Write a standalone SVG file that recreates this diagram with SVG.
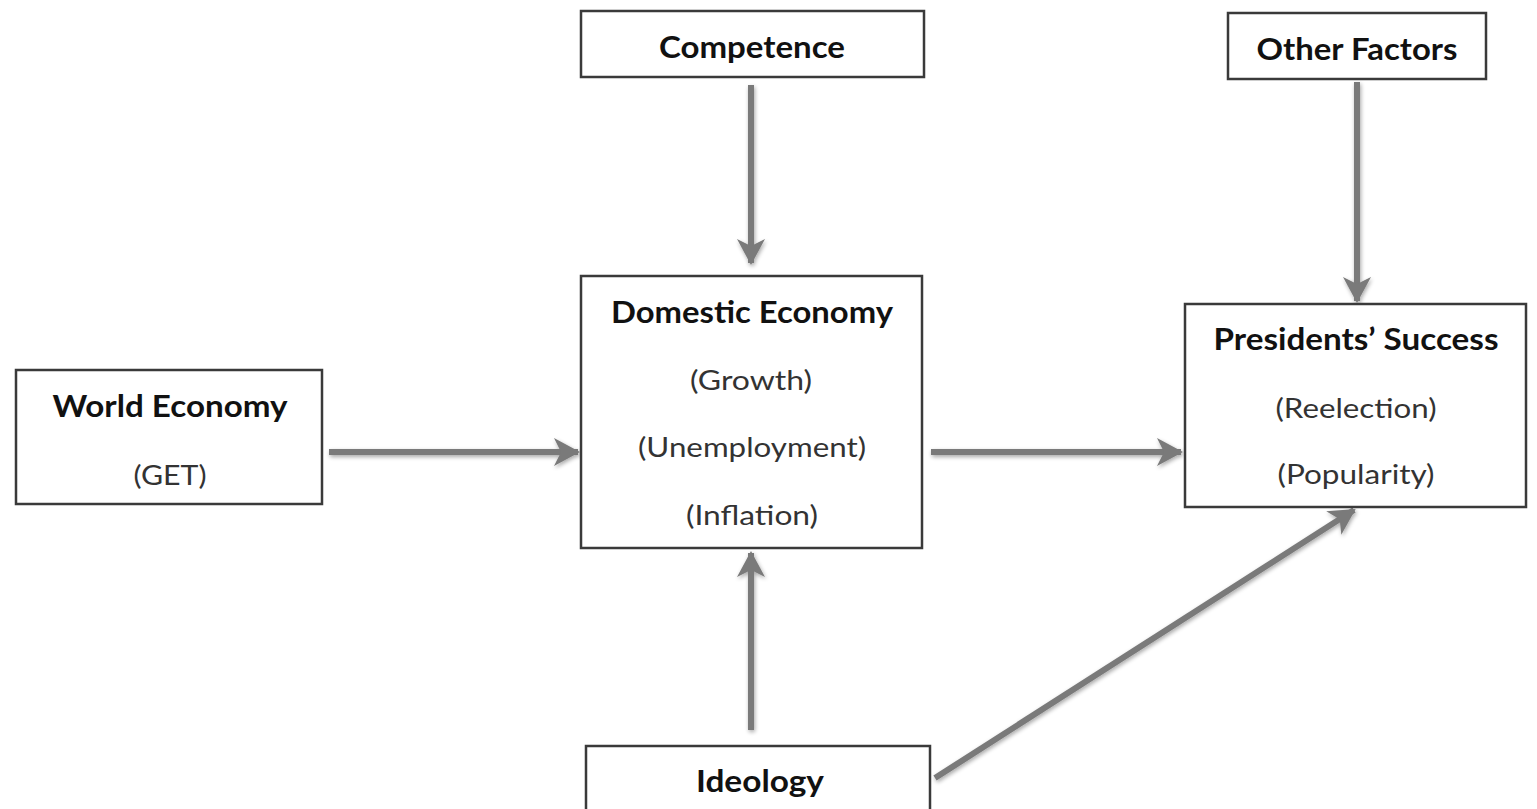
<svg xmlns="http://www.w3.org/2000/svg" width="1537" height="809" viewBox="0 0 1537 809">
<style>
.box{fill:#fff;stroke:#3a3a3a;stroke-width:2.5}
.t{font-family:Lato,"Open Sans","Liberation Sans",sans-serif;font-weight:bold;font-size:30px;fill:#111;text-anchor:middle}
.s{font-family:Lato,"Open Sans","Liberation Sans",sans-serif;font-size:26px;fill:#333;text-anchor:middle}
.c{stroke:#7a7a7a;stroke-width:6;fill:none;marker-end:url(#ah)}
</style>
<defs>
<marker id="ah" markerUnits="userSpaceOnUse" markerWidth="28" markerHeight="30" refX="24" refY="15" orient="auto">
<path d="M0,1 L26,15 L0,29 L7,15 Z" fill="#7a7a7a"/>
</marker>
<filter id="sh" filterUnits="userSpaceOnUse" x="0" y="0" width="1537" height="809">
<feGaussianBlur in="SourceAlpha" stdDeviation="2"/>
<feOffset dx="1" dy="2" result="b"/>
<feComponentTransfer><feFuncA type="linear" slope="0.35"/></feComponentTransfer>
<feMerge><feMergeNode/><feMergeNode in="SourceGraphic"/></feMerge>
</filter>
</defs>
<rect width="1537" height="809" fill="#fff"/>
<g id="connectors" filter="url(#sh)">
<line class="c" x1="751" y1="85" x2="751" y2="263"/>
<line class="c" x1="1357" y1="82" x2="1357" y2="301"/>
<line class="c" x1="329" y1="452" x2="578" y2="452"/>
<line class="c" x1="931" y1="452" x2="1181" y2="452"/>
<line class="c" x1="751" y1="730" x2="751" y2="553"/>
<line class="c" x1="935" y1="778" x2="1354" y2="510"/>
</g>
<g id="competence">
<rect class="box" x="581" y="11" width="343" height="66"/>
<text class="t" x="752" y="58" textLength="186" lengthAdjust="spacingAndGlyphs">Competence</text>
</g>
<g id="other-factors">
<rect class="box" x="1228" y="13" width="258" height="66"/>
<text class="t" x="1357" y="60" textLength="201" lengthAdjust="spacingAndGlyphs">Other Factors</text>
</g>
<g id="world-economy">
<rect class="box" x="16" y="370" width="306" height="134"/>
<text class="t" x="170" y="417" textLength="235" lengthAdjust="spacingAndGlyphs">World Economy</text>
<text class="s" x="170" y="485" textLength="73" lengthAdjust="spacingAndGlyphs">(GET)</text>
</g>
<g id="domestic-economy">
<rect class="box" x="581" y="276" width="341" height="272"/>
<text class="t" x="752" y="323" textLength="282" lengthAdjust="spacingAndGlyphs">Domestic Economy</text>
<text class="s" x="751" y="390" textLength="122" lengthAdjust="spacingAndGlyphs">(Growth)</text>
<text class="s" x="752" y="457" textLength="228" lengthAdjust="spacingAndGlyphs">(Unemployment)</text>
<text class="s" x="752" y="525" textLength="132" lengthAdjust="spacingAndGlyphs">(Inflation)</text>
</g>
<g id="presidents-success">
<rect class="box" x="1185" y="304" width="341" height="203"/>
<text class="t" x="1356" y="350" textLength="285" lengthAdjust="spacingAndGlyphs">Presidents’ Success</text>
<text class="s" x="1356" y="418" textLength="161" lengthAdjust="spacingAndGlyphs">(Reelection)</text>
<text class="s" x="1356" y="484" textLength="157" lengthAdjust="spacingAndGlyphs">(Popularity)</text>
</g>
<g id="ideology">
<rect class="box" x="586" y="746" width="344" height="70"/>
<text class="t" x="760" y="792" textLength="128" lengthAdjust="spacingAndGlyphs">Ideology</text>
</g>
</svg>
